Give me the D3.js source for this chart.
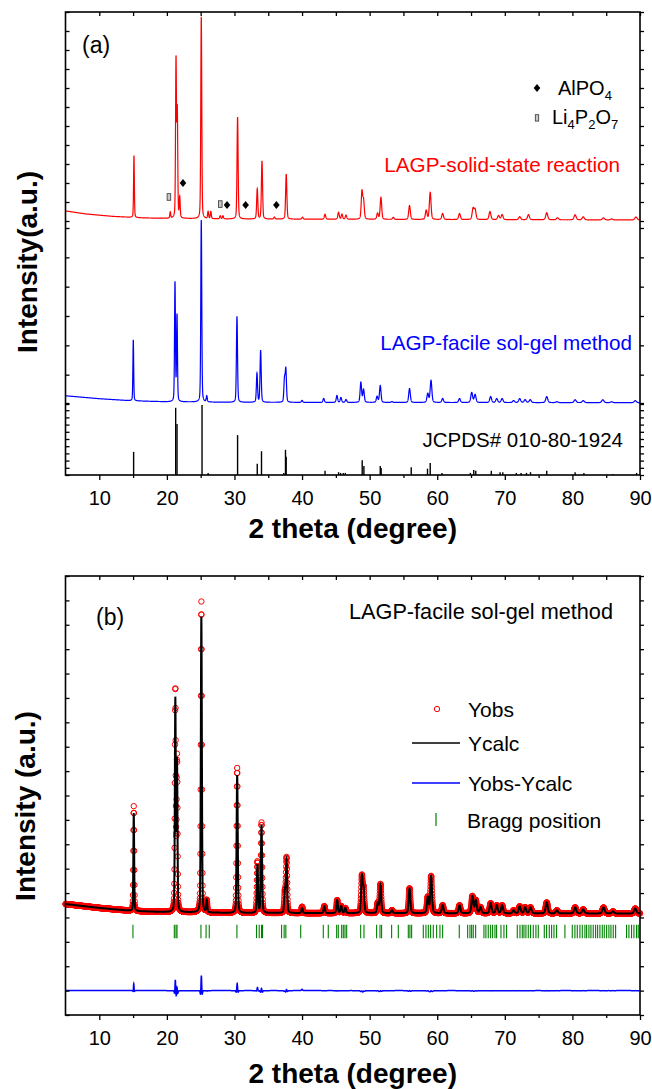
<!DOCTYPE html>
<html><head><meta charset="utf-8">
<script src="https://cdn.jsdelivr.net/npm/d3@7"></script>
<style>
body{margin:0;background:#fff}
svg{display:block}
text{font-family:"Liberation Sans",Arial,Helvetica,sans-serif}
</style>
</head><body>
<svg id="c" width="652" height="1089"></svg>
<script>
// ---------------- DATA ----------------
const xTickLabels = [10,20,30,40,50,60,70,80,90];
const xMinorTicks = [15,25,35,45,55,65,75,85];

// Panel (a) red: LAGP solid-state reaction, [2theta, relative intensity %]
const redPeaks = [
 [15.13,30.7],[20.5,3],[21.35,77.7],[21.54,52],[21.9,10],[25.09,100],[26.1,3.5],[26.5,3.5],
 [27.9,1.5],[28.3,1.5],[30.46,50.5],[33.37,14.9],[34.07,28.7],[35.9,1],[37.66,22.3],[40.07,1],
 [43.4,2.5],[45.4,3.5],[45.9,2.5],[46.5,2],[48.86,13.4],[49.1,8.9],[51.17,3],[51.67,10.9],
 [53.5,1],[55.9,6.9],[58.37,4.5],[58.96,13.4],[60.8,3],[63.3,3],[65.3,5.4],[65.6,5],
 [67.8,4],[69.07,2],[69.6,2.5],[72.2,1.5],[73.5,2.5],[76.2,3.5],[77.8,1],[80.4,2.5],
 [81.6,1.5],[84.6,1],[85.8,0.5],[89.4,1.5]
];
const redBackground = [[5,4.0],[8,2.5],[12,1.3],[16,0.6],[20,0.3],[30,0],[90,-0.5]];

// Panel (a) blue: LAGP facile sol-gel method
const bluePeaks = [
 [15.03,33.5],[21.2,65.4],[21.5,47.3],[25.09,100],[25.9,3.3],[30.37,47.3],[33.33,15.9],[33.87,28.6],
 [37.4,12.1],[37.6,17.6],[40.0,1.1],[43.2,2.2],[45.16,3.8],[45.75,2.7],[46.5,1.6],[48.7,11],
 [49.1,7.1],[51.1,3.3],[51.57,9.3],[53.3,0.5],[55.9,7.7],[58.6,4.9],[59.08,12.1],[60.8,2.2],
 [63.3,2.2],[65.1,5.5],[65.6,4.4],[67.9,3.3],[68.8,2.2],[69.6,2.2],[71.3,1.1],[72.2,2.2],
 [73.0,1.6],[73.76,1.6],[76.2,3.3],[77.7,0.5],[80.4,1.6],[81.6,1.1],[84.5,1.6],[85.8,0.5],[89.3,1.1]
];
const blueBackground = [[5,3.8],[10,2.2],[14.6,1.1],[20,0.5],[30,0.2],[90,0]];

// Panel (a) black sticks: JCPDS# 010-80-1924
const jcpdsLines = [
 [15.08,33],[21.3,96],[21.5,73],[25.2,100],[26.1,3],[30.46,57],[33.37,16],[34.0,34],[37.3,3],
 [37.55,36],[37.65,26],[43.4,6],[45.4,4],[45.7,3],[46.1,3],[46.4,3],[48.9,21],[49.15,13],
 [51.57,13],[51.7,10],[56.15,11],[58.56,9],[58.96,17],[60.7,3],[64.9,3],[65.4,7],[65.7,6],
 [68.0,6],[69.3,4],[69.7,4],[71.7,3],[72.4,3],[73.2,3],[73.8,4],[76.2,6],[80.4,4],[81.7,3],
 [86.0,1.5],[89.5,3]
];

// impurity markers on the red pattern [2theta, level %]
const alpo4Marks = [[22.38,17.8],[28.9,6.9],[31.65,6.9],[36.2,6.9]];
const li4p2o7Marks = [[20.3,10.9],[27.9,7.4]];

// Panel (b) Rietveld: [2theta, Yobs peak counts, Ycalc peak counts]
const rietveldPeaks = [
 [15.1,4300,4018],[21.25,9100,8650],[21.5,6250,6109],[25.1,12751,12136],[25.9,492,492],
 [30.4,5945,5658],[33.4,2100,1968],[34.0,3700,3608],[37.45,820,820],[37.7,2255,2200],
 [40.0,260,205],[43.3,287,287],[45.2,533,533],[45.8,287,287],[46.4,205,205],[48.85,1476,1476],
 [49.1,943,943],[51.2,410,410],[51.6,1189,1189],[53.3,123,123],[55.9,1025,1025],[58.6,656,656],
 [59.1,1517,1517],[60.8,328,328],[63.3,328,328],[65.2,697,697],[65.7,533,533],[66.4,246,246],
 [67.9,410,410],[68.8,328,328],[69.6,328,328],[71.3,123,123],[72.2,287,287],[73.0,246,246],
 [73.8,246,246],[76.2,451,451],[77.7,123,123],[80.4,246,246],[81.6,164,164],[84.6,246,246],
 [86.0,82,82],[89.3,205,205]
];
const rietveldBackground = [[5,4551],[10,4390],[15,4264],[20,4223],[30,4182],[90,4160]];
const diffOffset = 1000;
const braggPositions = [
 14.98,21.1,21.35,21.5,25.04,25.8,26.27,30.36,33.26,33.66,34.0,34.15,36.97,37.35,37.6,39.8,
 43.14,43.88,45.12,45.36,45.86,46.1,46.35,46.6,48.67,49.16,51.03,51.53,51.77,53.25,54.24,
 55.72,55.96,56.21,57.94,58.33,58.68,59.02,59.42,59.91,60.4,60.8,63.26,64.5,64.84,65.09,65.33,
 65.68,66.91,67.2,67.55,67.9,68.19,68.54,68.78,69.43,69.87,70.26,71.84,72.24,72.58,72.83,73.12,
 73.47,73.81,74.21,74.6,74.95,75.84,76.18,76.58,76.92,77.27,77.66,78.89,79.98,80.37,80.72,
 81.11,81.46,81.85,82.1,82.44,82.74,83.08,83.43,83.73,84.07,84.42,84.71,85.06,85.4,85.7,
 86.04,86.39,88.01,88.36,88.75,89.1,89.49,89.74
];
const braggTickRange = [3150,3700];

// ---------------- RENDER ----------------
const svg = d3.select("#c");
const FONT = '"Liberation Sans",Arial,Helvetica,sans-serif';
const x = d3.scaleLinear().domain([5,90]).range([65.5,640]);

function fwhm(t){ return 0.10 + 0.0035*(t-5); }
function profile(t, peaks, wf){
  wf = wf || 1; let s = 0;
  for (const [p,h] of peaks){
    const d = t-p; if (Math.abs(d) > 3) continue;
    const w = fwhm(p)*wf, u = (d/w)*(d/w);
    s += h*(0.3/(1+4*u) + 0.7*Math.exp(-4*Math.LN2*u));
  }
  return s;
}
function piecewise(arr){ return d3.scaleLinear().domain(arr.map(d=>d[0])).range(arr.map(d=>d[1])).clamp(true); }

const fineGrid = d3.range(0,8501).map(i=>5+i*0.01);
const obsGrid = d3.range(0,4251).map(i=>5+i*0.02);

function styleAxis(g){
  g.select(".domain").remove();
  g.selectAll(".tick line").attr("stroke","#000").attr("stroke-width",1.3);
  g.selectAll(".tick text").attr("font-size",20).attr("font-family",FONT).attr("fill","#000");
}

function frame(top, bottom, layers){
  const g = svg.append("g");
  g.append("g").attr("transform",`translate(0,${bottom})`)
    .call(d3.axisBottom(x).tickValues(xTickLabels).tickSize(5).tickPadding(11).tickSizeOuter(0)).call(styleAxis);
  g.append("g").attr("transform",`translate(0,${bottom})`)
    .call(d3.axisBottom(x).tickValues(xMinorTicks).tickSize(3).tickFormat("").tickSizeOuter(0)).call(styleAxis);
  g.append("g").attr("transform",`translate(0,${top})`)
    .call(d3.axisTop(x).tickValues(xTickLabels.concat(xMinorTicks)).tickSize(-4).tickFormat("").tickSizeOuter(0)).call(styleAxis);
  layers.forEach(([s,vals])=>{
    g.append("g").attr("transform",`translate(${x(5)},0)`)
      .call(d3.axisLeft(s).tickValues(vals).tickSize(-4).tickFormat("").tickSizeOuter(0)).call(styleAxis);
    g.append("g").attr("transform",`translate(${x(90)},0)`)
      .call(d3.axisRight(s).tickValues(vals).tickSize(4).tickFormat("").tickSizeOuter(0)).call(styleAxis);
  });
  g.append("rect").attr("x",x(5)).attr("y",top).attr("width",x(90)-x(5)).attr("height",bottom-top)
    .attr("fill","none").attr("stroke","#000").attr("stroke-width",1.6);
  return g;
}

// ----- Panel (a) -----
const aTop = 12, aBottom = 475;
const yRed = d3.scaleLinear().domain([0,100]).range([219,17]);
const yBlue = d3.scaleLinear().domain([0,100]).range([402.7,220.7]);
const yJc = d3.scaleLinear().domain([0,100]).range([aBottom,405]);
const tickRed = d3.scaleLinear().domain([0,11]).range([221,aTop]);
const tickBlue = d3.scaleLinear().domain([0,6]).range([404,228]);
const tickJc = d3.scaleLinear().domain([0,10]).range([aBottom,403]);

const bgRed = piecewise(redBackground), bgBlue = piecewise(blueBackground);

svg.append("path").datum(fineGrid)
  .attr("d", d3.line().x(t=>x(t)).y(t=>yRed(bgRed(t)+profile(t,redPeaks))))
  .attr("fill","none").attr("stroke","#ff0000").attr("stroke-width",1.2);
svg.append("path").datum(fineGrid)
  .attr("d", d3.line().x(t=>x(t)).y(t=>yBlue(bgBlue(t)+profile(t,bluePeaks))))
  .attr("fill","none").attr("stroke","#0000ff").attr("stroke-width",1.2);
svg.append("g").selectAll("line").data(jcpdsLines).join("line")
  .attr("x1",d=>x(d[0])).attr("x2",d=>x(d[0])).attr("y1",yJc(0)).attr("y2",d=>yJc(d[1]))
  .attr("stroke","#000").attr("stroke-width",1.4);

const diamond = "M0,-4L3.3,0L0,4L-3.3,0Z";
svg.append("g").selectAll("path").data(alpo4Marks).join("path")
  .attr("d",diamond).attr("transform",d=>`translate(${x(d[0])},${yRed(d[1])})`).attr("fill","#000");
svg.append("g").selectAll("rect").data(li4p2o7Marks).join("rect")
  .attr("x",d=>x(d[0])-1.8).attr("y",d=>yRed(d[1])-3.3).attr("width",3.6).attr("height",6.6)
  .attr("fill","#c8c8c8").attr("stroke","#333").attr("stroke-width",0.8);

frame(aTop, aBottom, [[tickRed,d3.range(0,12)],[tickBlue,d3.range(0,7)],[tickJc,d3.range(0,11)]]);

// legend (a)
svg.append("path").attr("d",diamond).attr("transform","translate(537,88)").attr("fill","#000");
svg.append("rect").attr("x",535.3).attr("y",114.7).attr("width",3.4).attr("height",6.4)
  .attr("fill","#c8c8c8").attr("stroke","#333").attr("stroke-width",0.8);
const t1 = svg.append("text").attr("x",558).attr("y",95).attr("font-size",20).attr("fill","#000");
t1.append("tspan").text("AlPO");
t1.append("tspan").attr("font-size",13).attr("dy",5).text("4");
const t2 = svg.append("text").attr("x",552).attr("y",124).attr("font-size",20).attr("fill","#000");
t2.append("tspan").text("Li");
t2.append("tspan").attr("font-size",13).attr("dy",5).text("4");
t2.append("tspan").attr("dy",-5).text("P");
t2.append("tspan").attr("font-size",13).attr("dy",5).text("2");
t2.append("tspan").attr("dy",-5).text("O");
t2.append("tspan").attr("font-size",13).attr("dy",5).text("7");

svg.append("text").attr("x",82).attr("y",53).attr("font-size",23).text("(a)");
svg.append("text").attr("x",620).attr("y",172).attr("text-anchor","end").attr("font-size",20.7).attr("fill","#ff0000").text("LAGP-solid-state reaction");
svg.append("text").attr("x",632).attr("y",350).attr("text-anchor","end").attr("font-size",20.7).attr("fill","#0000ff").text("LAGP-facile sol-gel method");
svg.append("text").attr("x",623).attr("y",447).attr("text-anchor","end").attr("font-size",20.5).attr("fill","#000").text("JCPDS# 010-80-1924");

svg.append("text").attr("transform","translate(36.5,262) rotate(-90)").attr("text-anchor","middle")
  .attr("font-size",28).attr("font-weight","bold").text("Intensity(a.u.)");
svg.append("text").attr("x",(x(5)+x(90))/2).attr("y",538).attr("text-anchor","middle")
  .attr("font-size",28).attr("font-weight","bold").text("2 theta (degree)");

// ----- Panel (b) -----
const bTop = 576, bBottom = 1015;
const yB = d3.scaleLinear().domain([0,18000]).range([bBottom,bTop]);
const bgB = piecewise(rietveldBackground);
const obsPk = rietveldPeaks.map(d=>[d[0],d[1]]);
const calcPk = rietveldPeaks.map(d=>[d[0],d[2]]);
const obsAt = t => bgB(t)+profile(t,obsPk,1);
const calcAt = t => bgB(t)+profile(t,calcPk,1.04);

svg.append("g").selectAll("circle").data(obsGrid).join("circle")
  .attr("cx",t=>x(t)).attr("cy",t=>yB(obsAt(t))).attr("r",2.7)
  .attr("fill","none").attr("stroke","#ff0000").attr("stroke-width",1);
svg.append("path").datum(fineGrid)
  .attr("d", d3.line().x(t=>x(t)).y(t=>yB(calcAt(t))))
  .attr("fill","none").attr("stroke","#000").attr("stroke-width",2);
svg.append("g").selectAll("line").data(braggPositions).join("line")
  .attr("x1",d=>x(d)).attr("x2",d=>x(d)).attr("y1",yB(braggTickRange[0])).attr("y2",yB(braggTickRange[1]))
  .attr("stroke","#008000").attr("stroke-width",1.1);
svg.append("path").datum(fineGrid)
  .attr("d", d3.line().x(t=>x(t)).y(t=>yB(obsAt(t)-calcAt(t)+diffOffset)))
  .attr("fill","none").attr("stroke","#0000ff").attr("stroke-width",1.5);

frame(bTop, bBottom, [[yB, d3.range(0,18001,1000)]]);

svg.append("text").attr("x",96).attr("y",625).attr("font-size",23).text("(b)");
svg.append("text").attr("x",613).attr("y",619).attr("text-anchor","end").attr("font-size",21.7).text("LAGP-facile sol-gel method");

// legend (b)
svg.append("circle").attr("cx",437).attr("cy",709).attr("r",2.7).attr("fill","none").attr("stroke","#ff0000").attr("stroke-width",1);
svg.append("text").attr("x",468).attr("y",717).attr("font-size",21).text("Yobs");
svg.append("line").attr("x1",412).attr("x2",460).attr("y1",743).attr("y2",743).attr("stroke","#000").attr("stroke-width",1.5);
svg.append("text").attr("x",468).attr("y",751).attr("font-size",21).text("Ycalc");
svg.append("line").attr("x1",412).attr("x2",460).attr("y1",783).attr("y2",783).attr("stroke","#0000ff").attr("stroke-width",1.5);
svg.append("text").attr("x",468).attr("y",791).attr("font-size",21).text("Yobs-Ycalc");
svg.append("line").attr("x1",436).attr("x2",436).attr("y1",813).attr("y2",826).attr("stroke","#008000").attr("stroke-width",1.2);
svg.append("text").attr("x",467).attr("y",828).attr("font-size",21).text("Bragg position");

svg.append("text").attr("transform","translate(35,806) rotate(-90)").attr("text-anchor","middle")
  .attr("font-size",28).attr("font-weight","bold").text("Intensity (a.u.)");
svg.append("text").attr("x",(x(5)+x(90))/2).attr("y",1083).attr("text-anchor","middle")
  .attr("font-size",28).attr("font-weight","bold").text("2 theta (degree)");
</script>
</body></html>
